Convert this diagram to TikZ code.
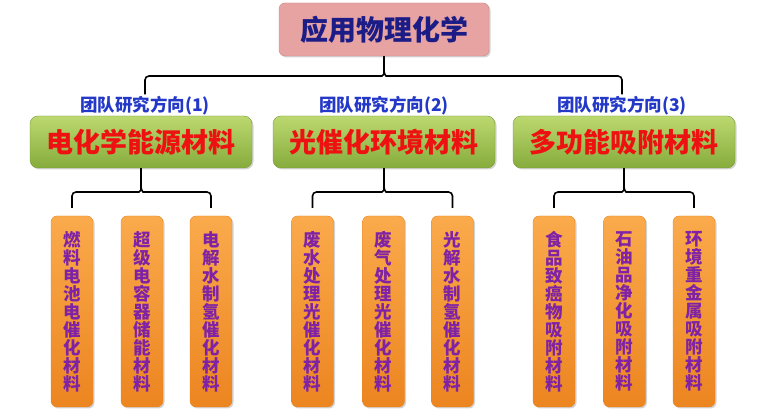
\documentclass[tikz,border=0pt]{standalone}
\usepackage{fontspec}
\setmainfont{Noto Sans CJK SC}
\usetikzlibrary{shadows}

\definecolor{rootfill}{HTML}{E6A3A2}
\definecolor{rootline}{HTML}{C98584}
\definecolor{rootfont}{HTML}{1C1C86}
\definecolor{labfont}{HTML}{2438C8}
\definecolor{greentop}{HTML}{BCD870}
\definecolor{greenbot}{HTML}{86AC3C}
\definecolor{greenfont}{HTML}{EE1111}
\definecolor{orangetop}{HTML}{FAAA4C}
\definecolor{orangebot}{HTML}{EC8520}
\definecolor{leaffont}{HTML}{7F22A6}

% brace: parent, left child, right child, bar y, lift of the ends
\newcommand{\tiebrace}[5]{%
  \draw[conn] ([yshift=#5]#2.north) -- (#2.north |- 0,#4) -- ([xshift=-6pt]#1.south |- 0,#4)
    .. controls ([xshift=-2pt]#1.south |- 0,#4) and ([yshift=2pt]#1.south |- 0,#4) .. ([yshift=6pt]#1.south |- 0,#4) -- (#1.south);
  \draw[conn] ([yshift=#5]#3.north) -- (#3.north |- 0,#4) -- ([xshift=6pt]#1.south |- 0,#4)
    .. controls ([xshift=2pt]#1.south |- 0,#4) and ([yshift=2pt]#1.south |- 0,#4) .. ([yshift=6pt]#1.south |- 0,#4);
}

\begin{document}
\begin{tikzpicture}[x=1pt, y=-1pt,
  shade/.style={drop shadow={opacity=0.35, shadow xshift=1.5pt, shadow yshift=-1.5pt}},
  root/.style={rectangle, rounded corners=6pt, draw=rootline, fill=rootfill, shade,
    minimum width=210pt, minimum height=53pt, text=rootfont,
    font=\fontsize{28}{30}\selectfont\bfseries},
  dir/.style={inner sep=2pt, text=labfont, font=\fontsize{17.5}{19}\selectfont\bfseries},
  group/.style={rectangle, rounded corners=8pt, draw=greenbot!90!black, top color=greentop,
    bottom color=greenbot, shade, minimum width=222pt, minimum height=52pt, text=greenfont,
    font=\fontsize{27}{29}\selectfont\bfseries},
  leaf/.style={rectangle, rounded corners=6pt, draw=orangebot, top color=orangetop,
    bottom color=orangebot, shade, minimum width=42pt, minimum height=191pt, inner sep=0pt,
    align=center, text=leaffont, font=\fontsize{17.5}{18}\selectfont\bfseries},
  conn/.style={line width=1.6pt, rounded corners=4pt, black}]

  \useasboundingbox (0,0) rectangle (766,411);

  % Root
  \node[root] (root) at (384,29.5) {应用物理化学};

  % Directions
  \node[dir] (lab1) at (145,106) {团队研究方向(1)};
  \node[dir] (lab2) at (384,106) {团队研究方向(2)};
  \node[dir] (lab3) at (622,106) {团队研究方向(3)};

  \node[group] (g1) at (141,142) {电化学能源材料};
  \node[group] (g2) at (384,142) {光催化环境材料};
  \node[group] (g3) at (624,142) {多功能吸附材料};

  % Materials
  \foreach \x/\t [count=\i] in {
      72/{燃\\料\\电\\池\\电\\催\\化\\材\\料},
      142/{超\\级\\电\\容\\器\\储\\能\\材\\料},
      211/{电\\解\\水\\制\\氢\\催\\化\\材\\料},
      312.5/{废\\水\\处\\理\\光\\催\\化\\材\\料},
      383.5/{废\\气\\处\\理\\光\\催\\化\\材\\料},
      452.5/{光\\解\\水\\制\\氢\\催\\化\\材\\料},
      554/{食\\品\\致\\癌\\物\\吸\\附\\材\\料},
      624.5/{石\\油\\品\\净\\化\\吸\\附\\材\\料},
      694/{环\\境\\重\\金\\属\\吸\\附\\材\\料}} {
    \node[leaf] (m\i) at (\x,311.5) {\t};
  }

  % Braces
  \tiebrace{root}{lab1}{lab3}{76}{0pt}
  \tiebrace{g1}{m1}{m3}{192}{8pt}
  \tiebrace{g2}{m4}{m6}{192}{8pt}
  \tiebrace{g3}{m7}{m9}{192}{8pt}

\end{tikzpicture}
\end{document}
